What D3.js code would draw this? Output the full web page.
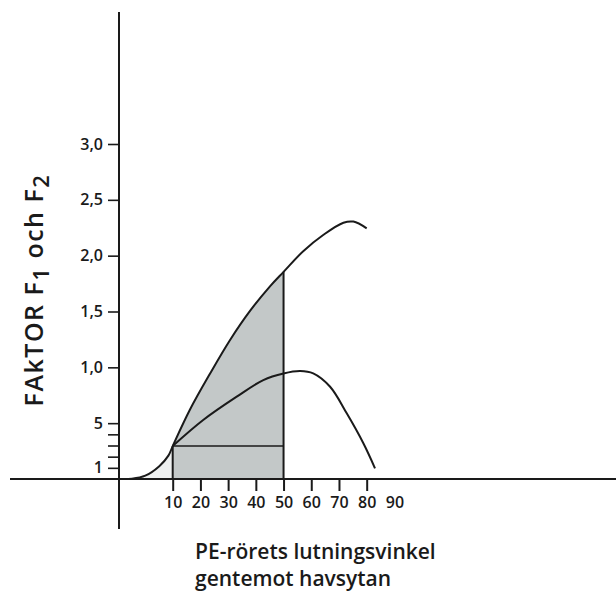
<!DOCTYPE html>
<html>
<head>
<meta charset="utf-8">
<script src="https://cdn.jsdelivr.net/npm/d3@7"></script>
<style>
  body { margin: 0; background: #fff; }
  text { font-family: "Open Sans", "Noto Sans", sans-serif; fill: #1a1a1a; }
</style>
</head>
<body>
<div id="chart"></div>
<script>
// vinkel (grader) och faktor
var f1Angle = [0, 2.4, 4.9, 7.5, 9.2, 10, 16.2, 23.5, 30.7, 37.9, 45.1, 50, 57.1, 64.3, 71.6, 75.2, 80];
var f1Value = [0, 0.003, 0.03, 0.115, 0.209, 0.295, 0.62, 0.945, 1.245, 1.505, 1.725, 1.855, 2.04, 2.185, 2.295, 2.305, 2.245];

var f2Angle = [10, 21, 33.1, 42.7, 50, 56, 60.7, 66.8, 72.8, 78.8, 83];
var f2Value = [0.295, 0.528, 0.737, 0.886, 0.945, 0.967, 0.946, 0.826, 0.588, 0.32, 0.096];

var xTicks = [10, 20, 30, 40, 50, 60, 70, 80, 90];
var yTicks = [0.1, 0.2, 0.3, 0.4, 0.5, 1.0, 1.5, 2.0, 2.5, 3.0];
var yTickLabels = ["1", "", "", "", "5", "1,0", "1,5", "2,0", "2,5", "3,0"];

var shadeFrom = 10, shadeTo = 50;

var width = 616, height = 596;

var svg = d3.select("#chart")
  .append("svg")
    .attr("width", width)
    .attr("height", height);

// x-skalan är inte linjär nära origo i originalet
var x = d3.scaleLinear()
  .domain([0, 10, 90])
  .range([119, 172.7, 394.4]);

var y = d3.scaleLinear()
  .domain([0, 3])
  .range([479, 144]);

var f1 = f1Angle.map(function(a, i) { return {a: a, v: f1Value[i]}; });
var f2 = f2Angle.map(function(a, i) { return {a: a, v: f2Value[i]}; });

var line = d3.line()
  .x(function(d) { return x(d.a); })
  .y(function(d) { return y(d.v); })
  .curve(d3.curveCatmullRom);

var area = d3.area()
  .x(function(d) { return x(d.a); })
  .y0(y(0))
  .y1(function(d) { return y(d.v); })
  .curve(d3.curveCatmullRom);

// ljus skuggning under kurvan före 10 grader
svg.append("path")
  .datum(f1.filter(function(d) { return d.a <= shadeFrom; }))
  .attr("d", area)
  .attr("fill", "#eef0f0");

// grå yta mellan 10 och 50 grader
svg.append("path")
  .datum(f1.filter(function(d) { return d.a >= shadeFrom && d.a <= shadeTo; }))
  .attr("d", area)
  .attr("fill", "#c3c8c8");

// axellinjer
svg.append("line")
  .attr("x1", 10).attr("x2", width)
  .attr("y1", y(0)).attr("y2", y(0))
  .attr("stroke", "#1a1a1a").attr("stroke-width", 2);

svg.append("line")
  .attr("x1", x(0)).attr("x2", x(0))
  .attr("y1", 12).attr("y2", 529)
  .attr("stroke", "#1a1a1a").attr("stroke-width", 2);

// x-axel
var gx = svg.append("g")
  .attr("transform", "translate(0," + y(0) + ")")
  .call(d3.axisBottom(x).tickValues(xTicks).tickSize(12).tickPadding(6).tickFormat(d3.format("d")));
gx.select(".domain").remove();
gx.selectAll(".tick line").attr("stroke", "#1a1a1a").attr("stroke-width", 2)
  .attr("display", function(d) { return d === 90 ? "none" : null; });
gx.selectAll(".tick text")
  .style("font-size", "16px").style("font-weight", 600).attr("fill", "#1a1a1a");

// y-axel
var gy = svg.append("g")
  .attr("transform", "translate(" + x(0) + ",0)")
  .call(d3.axisLeft(y).tickValues(yTicks).tickSize(11).tickPadding(5)
    .tickFormat(function(d, i) { return yTickLabels[i]; }));
gy.select(".domain").remove();
gy.selectAll(".tick line").attr("stroke", "#1a1a1a").attr("stroke-width", 1.6);
gy.selectAll(".tick text")
  .style("font-size", "16px").style("font-weight", 600).attr("fill", "#1a1a1a");

// hjälplinjer
var f1At50 = f1Value[f1Angle.indexOf(shadeTo)];
var f1At10 = f1Value[f1Angle.indexOf(shadeFrom)];

svg.append("line")
  .attr("x1", x(shadeFrom)).attr("x2", x(shadeFrom))
  .attr("y1", y(0)).attr("y2", y(f1At10))
  .attr("stroke", "#1a1a1a").attr("stroke-width", 2);

svg.append("line")
  .attr("x1", x(shadeTo)).attr("x2", x(shadeTo))
  .attr("y1", y(0)).attr("y2", y(f1At50))
  .attr("stroke", "#1a1a1a").attr("stroke-width", 2);

svg.append("line")
  .attr("x1", x(shadeFrom)).attr("x2", x(shadeTo))
  .attr("y1", y(f1At10)).attr("y2", y(f1At10))
  .attr("stroke", "#1a1a1a").attr("stroke-width", 1.6);

// kurvor
svg.append("path").datum(f1).attr("d", line)
  .attr("fill", "none").attr("stroke", "#1a1a1a").attr("stroke-width", 2);
svg.append("path").datum(f2).attr("d", line)
  .attr("fill", "none").attr("stroke", "#1a1a1a").attr("stroke-width", 2);

// y-axelns titel
var yt = svg.append("text")
  .attr("transform", "translate(43,290) rotate(-90)")
  .attr("text-anchor", "middle")
  .style("font-size", "25px").style("font-weight", 600)
  .style("letter-spacing", "1.5px");
yt.append("tspan").text("FAkTOR F");
yt.append("tspan").text("1").attr("dy", 6).style("font-size", "22px");
yt.append("tspan").text(" och F").attr("dy", -6);
yt.append("tspan").text("2").attr("dy", 6).style("font-size", "22px");

// x-axelns titel
svg.append("text").attr("x", 195).attr("y", 559)
  .style("font-size", "21px").style("font-weight", 600)
  .text("PE-rörets lutningsvinkel");
svg.append("text").attr("x", 195).attr("y", 586)
  .style("font-size", "21px").style("font-weight", 600)
  .text("gentemot havsytan");
</script>
</body>
</html>
